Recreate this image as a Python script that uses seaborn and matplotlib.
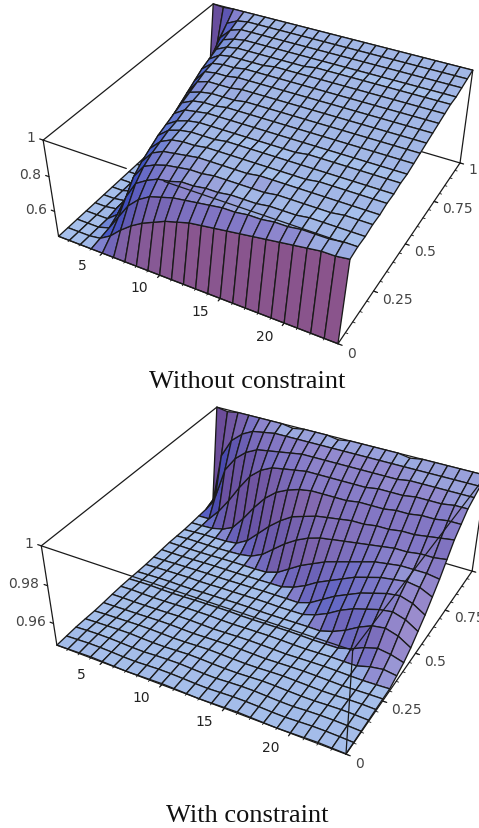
import numpy as np
import matplotlib
matplotlib.use("Agg")
import matplotlib.pyplot as plt
import seaborn as sns

sns.set_theme(style="white")

x_vals = list(range(1, 25))
y_vals = [i * 0.05 for i in range(21)]

x_ticks = [5, 10, 15, 20]
y_ticks = [0, 0.25, 0.5, 0.75, 1]
y_labels = ["0", "0.25", "0.5", "0.75", "1"]
z_ticks_top = [1, 0.8, 0.6]
z_ticks_bot = [1, 0.98, 0.96]
z_labels_top = ["1", "0.8", "0.6"]
z_labels_bot = ["1", "0.98", "0.96"]
z_floor_top = 0.45
z_floor_bot = 0.948

# rows run from y=0 to y=1, columns from x=1 to x=24
surface_top = [
    [.45,.45,.45,.45,.45,.45,.45,.45,.45,.45,.45,.45,.45,.45,.45,.45,.45,.45,.45,.45,.45,.45,.45,.45],
    [.45,.45,.45,.46,.50,.56,.61,.65,.68,.71,.73,.75,.76,.77,.78,.79,.80,.81,.82,.83,.84,.85,.85,.86],
    [.45,.45,.45,.47,.56,.65,.71,.75,.77,.79,.80,.81,.82,.83,.83,.84,.84,.85,.85,.86,.86,.86,.87,.87],
    [.45,.45,.45,.50,.63,.73,.77,.80,.81,.83,.83,.84,.84,.85,.85,.85,.86,.86,.86,.87,.87,.87,.87,.87],
    [.45,.45,.46,.54,.70,.78,.81,.83,.84,.85,.85,.86,.86,.86,.86,.86,.87,.87,.87,.87,.87,.88,.88,.88],
    [.45,.45,.46,.58,.74,.81,.84,.85,.86,.87,.87,.87,.87,.87,.88,.88,.88,.88,.88,.88,.88,.88,.88,.88],
    [.45,.45,.47,.62,.77,.83,.86,.87,.87,.88,.88,.88,.88,.88,.88,.88,.88,.88,.89,.89,.89,.89,.89,.89],
    [.45,.45,.48,.66,.80,.85,.87,.88,.88,.88,.89,.89,.89,.89,.89,.89,.89,.89,.89,.89,.89,.89,.89,.89],
    [.45,.45,.50,.70,.82,.86,.88,.89,.89,.89,.89,.89,.89,.89,.89,.89,.90,.90,.90,.90,.90,.90,.90,.90],
    [.45,.45,.52,.73,.84,.88,.89,.90,.90,.90,.90,.90,.90,.90,.90,.90,.90,.90,.90,.90,.90,.90,.90,.90],
    [.45,.46,.55,.76,.86,.89,.90,.90,.91,.91,.91,.91,.91,.91,.91,.91,.91,.91,.91,.91,.91,.91,.91,.91],
    [.45,.46,.58,.79,.88,.90,.91,.91,.91,.92,.92,.92,.92,.92,.92,.92,.92,.92,.92,.92,.92,.92,.92,.92],
    [.45,.47,.62,.82,.90,.92,.92,.92,.93,.93,.93,.93,.93,.93,.93,.93,.93,.93,.93,.93,.93,.93,.93,.93],
    [.45,.48,.66,.85,.92,.93,.93,.94,.94,.94,.94,.94,.94,.94,.94,.94,.94,.94,.94,.94,.94,.94,.94,.94],
    [.45,.50,.70,.88,.93,.94,.94,.95,.95,.95,.95,.95,.95,.95,.95,.95,.95,.95,.95,.95,.95,.95,.95,.95],
    [.45,.52,.75,.90,.94,.95,.95,.95,.95,.96,.96,.96,.96,.96,.96,.96,.96,.96,.96,.96,.96,.96,.96,.96],
    [.45,.56,.80,.92,.95,.96,.96,.96,.96,.96,.96,.96,.97,.97,.97,.97,.97,.97,.97,.97,.97,.97,.97,.97],
    [.46,.62,.85,.94,.96,.97,.97,.97,.97,.97,.97,.97,.97,.97,.97,.97,.97,.97,.97,.97,.97,.97,.97,.97],
    [.48,.70,.90,.96,.98,.98,.98,.98,.98,.98,.98,.98,.98,.98,.98,.98,.98,.98,.98,.98,.98,.98,.98,.98],
    [.55,.82,.95,.98,.99,.99,.99,.99,.99,.99,.99,.99,.99,.99,.99,.99,.99,.99,.99,.99,.99,.99,.99,.99],
    [1.0,.995,1.0,1.0,1.0,1.0,1.0,1.0,1.0,1.0,1.0,1.0,1.0,1.0,1.0,1.0,1.0,1.0,1.0,1.0,1.0,1.0,1.0,1.0],
]

surface_bot = [
    [.9480,.9482,.9484,.9486,.9484,.9482,.9480,.9482,.9484,.9486,.9484,.9482,.9480,.9482,.9484,.9486,.9484,.9482,.9480,.9482,.9484,.9486,.9484,.9482],
    [.9482,.9485,.9488,.9488,.9486,.9483,.9482,.9485,.9488,.9488,.9486,.9483,.9482,.9485,.9488,.9488,.9486,.9483,.9482,.9485,.9488,.9488,.9486,.9483],
    [.9484,.9488,.9490,.9490,.9488,.9485,.9484,.9488,.9490,.9491,.9488,.9485,.9484,.9488,.9491,.9491,.9488,.9485,.9484,.9488,.9490,.9490,.9488,.9485],
    [.9483,.9486,.9488,.9490,.9491,.9488,.9486,.9486,.9489,.9492,.9491,.9488,.9486,.9486,.9489,.9492,.9491,.9488,.9486,.9486,.9489,.9491,.9490,.9487],
    [.9481,.9484,.9486,.9488,.9490,.9490,.9488,.9486,.9487,.9490,.9492,.9490,.9488,.9486,.9487,.9490,.9492,.9490,.9488,.9486,.9487,.9490,.9491,.9489],
    [.9482,.9483,.9485,.9486,.9488,.9490,.9490,.9488,.9486,.9488,.9490,.9491,.9490,.9488,.9486,.9488,.9490,.9491,.9490,.9488,.9486,.9488,.9490,.9491],
    [.9484,.9485,.9484,.9485,.9486,.9488,.9490,.9490,.9488,.9486,.9488,.9490,.9491,.9490,.9488,.9486,.9488,.9490,.9491,.9490,.9488,.9487,.9489,.9492],
    [.9485,.9487,.9485,.9484,.9485,.9487,.9489,.9490,.9490,.9488,.9487,.9489,.9490,.9491,.9490,.9488,.9487,.9489,.9491,.9490,.9490,.9510,.9520,.9510],
    [.9484,.9486,.9487,.9485,.9484,.9486,.9488,.9489,.9490,.9490,.9488,.9488,.9489,.9490,.9491,.9490,.9488,.9489,.9490,.9510,.9540,.9560,.9550,.9530],
    [.9482,.9484,.9486,.9487,.9485,.9485,.9487,.9488,.9489,.9490,.9490,.9488,.9488,.9489,.9490,.9491,.9490,.9510,.9540,.9580,.9610,.9620,.9600,.9560],
    [.9481,.9483,.9485,.9486,.9487,.9485,.9486,.9488,.9488,.9489,.9490,.9490,.9488,.9489,.9490,.9510,.9540,.9580,.9610,.9630,.9650,.9660,.9640,.9600],
    [.9482,.9482,.9484,.9485,.9486,.9487,.9486,.9487,.9488,.9489,.9490,.9490,.9490,.9489,.9510,.9550,.9590,.9620,.9650,.9670,.9690,.9700,.9680,.9640],
    [.9484,.9483,.9483,.9484,.9486,.9487,.9487,.9487,.9488,.9489,.9490,.9491,.9510,.9540,.9580,.9610,.9640,.9670,.9690,.9710,.9720,.9730,.9720,.9690],
    [.9485,.9485,.9484,.9484,.9485,.9487,.9488,.9488,.9488,.9490,.9510,.9550,.9590,.9620,.9650,.9670,.9690,.9710,.9730,.9740,.9750,.9750,.9750,.9740],
    [.9483,.9486,.9486,.9485,.9485,.9487,.9490,.9500,.9530,.9580,.9630,.9670,.9700,.9720,.9730,.9740,.9750,.9760,.9770,.9780,.9780,.9790,.9790,.9800],
    [.9481,.9484,.9487,.9487,.9488,.9495,.9530,.9590,.9650,.9700,.9740,.9760,.9780,.9790,.9800,.9810,.9810,.9820,.9820,.9830,.9830,.9840,.9850,.9860],
    [.9482,.9483,.9486,.9500,.9530,.9600,.9680,.9750,.9800,.9830,.9850,.9860,.9860,.9860,.9860,.9870,.9870,.9870,.9880,.9880,.9890,.9890,.9900,.9900],
    [.9484,.9485,.9550,.9630,.9720,.9800,.9850,.9880,.9890,.9900,.9910,.9910,.9910,.9910,.9910,.9910,.9920,.9920,.9920,.9930,.9930,.9930,.9940,.9940],
    [.9485,.9580,.9750,.9830,.9880,.9910,.9920,.9930,.9940,.9950,.9950,.9950,.9950,.9950,.9950,.9950,.9950,.9950,.9960,.9960,.9960,.9960,.9960,.9960],
    [.9490,.9780,.9880,.9930,.9960,.9970,.9980,.9980,.9980,.9980,.9980,.9980,.9980,.9980,.9980,.9980,.9980,.9980,.9980,.9980,.9980,.9980,.9980,.9980],
    [1.0,.9990,1.0,1.0,1.0,1.0,1.0,.9990,1.0,1.0,1.0,.9990,1.0,1.0,1.0,1.0,1.0,.9990,1.0,1.0,1.0,1.0,1.0,1.0],
]

# box corners in figure pixels, used to pin the view to the picture
corners_top = {(1,0,0):(58.3,237.3),(24,0,0):(338.3,344.3),(24,1,0):(460,164.3),
               (1,0,1):(43.3,141),(1,1,1):(213.3,5),(24,1,1):(472.7,70.7),(24,0,1):(343.5,244.3)}
corners_bot = {(1,0,0):(56.7,646.7),(24,0,0):(346.7,755),(24,1,0):(471.7,571.7),
               (1,0,1):(41.7,546),(1,1,1):(216.7,408.3),(24,1,1):(486.7,476.7),(24,0,1):(351.7,651.7)}


def camera(corners, zmin):
    rows = []
    for (cx, cy, cz), (u, v) in corners.items():
        p = [cx, cy, zmin if cz == 0 else 1.0, 1]
        rows.append(p + [0, 0, 0, 0] + [-u * c for c in p])
        rows.append([0, 0, 0, 0] + p + [-v * c for c in p])
    P = np.linalg.svd(np.array(rows))[2][-1].reshape(3, 4)
    if P[2] @ np.array([12, 0.5, 1, 1]) < 0:
        P = -P
    # last row is the camera depth so that far polygons get drawn first
    return np.array([P[0], P[1], [0, 0, 0, -1], P[2]])


def facet_colors(Z, zmin):
    # Mathematica style lighting, colours
    zz = (Z - zmin) / (1 - zmin) * 0.4
    dx = 1 / 23
    dy = 0.05
    gx = (zz[:-1, 1:] + zz[1:, 1:] - zz[:-1, :-1] - zz[1:, :-1]) / (2 * dx)
    gy = (zz[1:, :-1] + zz[1:, 1:] - zz[:-1, :-1] - zz[:-1, 1:]) / (2 * dy)
    norm = np.sqrt(gx ** 2 + gy ** 2 + 1)
    nx, ny, nz = -gx / norm, -gy / norm, 1 / norm
    tilt = np.degrees(np.arctan2(np.maximum(-ny, 0), nz))
    angles = [0, 10, 25, 40, 80]
    anchors = np.array([[.65, .75, .92], [.63, .71, .90], [.57, .54, .81], [.52, .47, .77], [.54, .33, .55]])
    base = np.stack([np.interp(tilt, angles, anchors[:, i]) for i in range(3)], axis=-1)
    left = np.array([.08, .22, .75])
    right = np.array([.70, .62, .82])
    a = (np.abs(nx) ** 1.5)[..., None]
    side = np.where(nx[..., None] < 0, left, right)
    return np.concatenate([base * (1 - a) + side * a, np.ones_like(a)], axis=-1)


def draw_panel(rect, ylim, corners, table, zmin, z_ticks, z_labels, over_lines):
    ax = fig.add_axes(rect, projection="3d", computed_zorder=False)
    ax.set_proj_type("ortho")  # keeps lines from being clipped, the view comes from camera()
    ax.set_axis_off()
    ax.patch.set_visible(False)
    M = camera(corners, zmin)
    ax.get_proj = lambda: M
    ax.viewLim.intervalx = (0, 479)
    ax.viewLim.intervaly = ylim

    X, Y = np.meshgrid(x_vals, y_vals)
    Z = np.array(table)
    ax.plot_surface(X, Y, Z, rstride=1, cstride=1, facecolors=facet_colors(Z, zmin),
                    shade=False, edgecolor="k", linewidth=0.95, zorder=2)

    def seg(p, q, z=1, lw=0.9):
        ax.plot([p[0], q[0]], [p[1], q[1]], [p[2], q[2]], color="k", lw=lw, zorder=z)

    def label(px, py, pz, text, **kw):
        w = M @ np.array([px, py, pz, 1])
        ax.text2D(w[0] / w[3], w[1] / w[3], text, transform=ax.transData, va="center",
                  fontsize=10, zorder=4, **kw)

    # box edges behind the surface
    seg((1, 0, 1), (1, 1, 1))
    seg((1, 1, 1), (24, 1, 1))
    seg((24, 1, 1), (24, 1, zmin))
    seg((1, 1, zmin), (24, 1, zmin))
    seg((1, 0, 1), (1, 0, zmin), 3)
    seg((1, 0, zmin), (24, 0, zmin), 3)
    seg((24, 0, zmin), (24, 1, zmin), 3)
    for p, q in over_lines:
        seg(p, q, 3)

    for t in range(2, 24):
        seg((t, 0, zmin), (t, -0.007, zmin), 3, 0.6)
    for t in y_vals:
        seg((24, t, zmin), (24.18, t, zmin), 3, 0.6)

    for t in x_ticks:
        seg((t, 0, zmin), (t, -0.012, zmin), 3)
        label(t - 0.55, -0.075, zmin, str(t), ha="center", color="#222222")
    for t, lab in zip(y_ticks, y_labels):
        seg((24, t, zmin), (24.3, t, zmin), 3)
        label(24.85, t - 0.02, zmin, lab, ha="left", color="#444444")
    for t, lab in zip(z_ticks, z_labels):
        seg((1, 0, t), (0.7, 0, t), 3)
        label(0.3, 0, t, lab, ha="right", color="#444444")
    return ax


fig = plt.figure(figsize=(4.79, 8.29), dpi=100)
h = 479 / 829
draw_panel([0, 1 - h, 1, h], (479, 0), corners_top, surface_top, z_floor_top,
           z_ticks_top, z_labels_top,
           [((1, 0, 1), (8, 0, 1)), ((11, 0, 1), (24, 0, 1))])
draw_panel([0, 0, 1, h], (829, 350), corners_bot, surface_bot, z_floor_bot,
           z_ticks_bot, z_labels_bot,
           [((1, 0, 1), (24, 0, 1)), ((24, 0, 1), (24, 0, z_floor_bot)), ((24, 0, 1), (24, 1, 1))])

fig.text(247.5 / 479, 1 - 382 / 829, "Without constraint", ha="center", va="center",
         family="Liberation Serif", fontsize=19, color="#111111")
fig.text(247.5 / 479, 1 - 816 / 829, "With constraint", ha="center", va="center",
         family="Liberation Serif", fontsize=19, color="#111111")

fig.savefig("out.png", dpi=100)
